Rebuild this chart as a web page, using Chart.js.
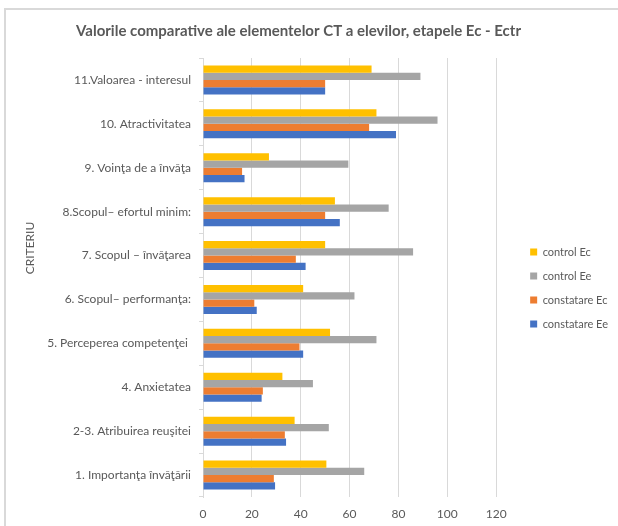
<!DOCTYPE html>
<html>
<head>
<meta charset="utf-8">
<script src="https://cdn.jsdelivr.net/npm/chart.js@4/dist/chart.umd.min.js"></script>
<style>
  html, body { margin: 0; padding: 0; background: #fff; }
  canvas { display: block; }
</style>
</head>
<body>
<canvas id="c" width="618" height="526"></canvas>
<script>
const categories = [
  "11.Valoarea - interesul",
  "10. Atractivitatea",
  "9. Voinţa de a învăţa",
  "8.Scopul– efortul minim:",
  "7. Scopul – învăţarea",
  "6. Scopul– performanţa:",
  "5. Perceperea competenţei ",
  "4. Anxietatea",
  "2-3. Atribuirea reuşitei",
  "1. Importanţa învăţării"
];
const controlEc     = [69, 71, 27, 54, 50, 41, 52, 32.5, 37.5, 50.5];
const controlEe     = [89, 96, 59.5, 76, 86, 62, 71, 45, 51.5, 66];
const constatareEc  = [50, 68, 16, 50, 38, 21, 39.5, 24.5, 33.5, 29];
const constatareEe  = [50, 79, 17, 56, 42, 22, 41, 24, 34, 29.5];
const seriesNames   = ["control Ec", "control Ee", "constatare Ec", "constatare Ee"];
const xTicks        = [0, 20, 40, 60, 80, 100, 120];
const titleText     = "Valorile comparative ale elementelor CT a elevilor, etapele Ec - Ectr";
const yAxisTitle    = "CRITERIU";

const FONT = "Lato, 'Open Sans', sans-serif";
const TXT = "#595959";
const GRID = "#d9d9d9";

const framePlugin = {
  id: 'frame',
  beforeDraw(chart) {
    const ctx = chart.ctx;
    ctx.save();
    ctx.strokeStyle = GRID;
    ctx.lineWidth = 2;
    ctx.beginPath();
    ctx.moveTo(5, 526); ctx.lineTo(5, 9); ctx.lineTo(618, 9);
    ctx.stroke();
    ctx.restore();
  },
  afterDraw(chart) {
    const ctx = chart.ctx;
    ctx.save();
    ctx.fillStyle = TXT;
    ctx.font = "12px " + FONT;
    ctx.textAlign = "center";
    ctx.textBaseline = "middle";
    ctx.translate(30.5, 248);
    ctx.rotate(-Math.PI / 2);
    ctx.fillText(yAxisTitle, 0, 0);
    ctx.restore();
  },
  afterLayout(chart) {
    const lg = chart.legend;
    if (lg) { lg.left += 21; lg.right += 21; lg.top += 14; lg.bottom += 14; }
  }
};

const colors = ["#FFC000", "#A5A5A5", "#ED7D31", "#4472C4"];
const values = [controlEc, controlEe, constatareEc, constatareEe];

new Chart(document.getElementById('c'), {
  type: 'bar',
  data: {
    labels: categories,
    datasets: values.map((v, i) => ({
      label: seriesNames[i],
      data: v,
      backgroundColor: colors[i],
      borderWidth: 0,
      categoryPercentage: 0.66,
      barPercentage: 1.0
    }))
  },
  options: {
    indexAxis: 'y',
    responsive: false,
    animation: false,
    layout: { padding: { top: 22, left: 0, right: 21, bottom: 0 } },
    plugins: {
      title: {
        display: true,
        text: titleText,
        color: TXT,
        font: { family: FONT, size: 15, weight: 'bold' },
        padding: { top: 0, bottom: 18 }
      },
      legend: {
        position: 'right',
        align: 'center',
        labels: {
          color: TXT,
          font: { family: FONT, size: 11 },
          boxWidth: 7,
          boxHeight: 7,
          padding: 13
        }
      },
      tooltip: { enabled: false }
    },
    scales: {
      x: {
        min: 0, max: 120,
        afterBuildTicks(scale) { scale.ticks = xTicks.map(v => ({ value: v })); },
        ticks: { color: TXT, font: { family: FONT, size: 12 }, padding: 10 },
        grid: { color: GRID, lineWidth: 1, drawTicks: false },
        border: { display: false },
        afterFit(scale) { scale.height = 29; }
      },
      y: {
        ticks: { color: TXT, font: { family: FONT, size: 12 }, padding: 8 },
        grid: { drawOnChartArea: false, drawTicks: true, tickLength: 4, color: GRID },
        border: { display: true, color: GRID },
        afterFit(scale) { scale.width = 203; }
      }
    }
  },
  plugins: [framePlugin]
});
</script>
</body>
</html>
